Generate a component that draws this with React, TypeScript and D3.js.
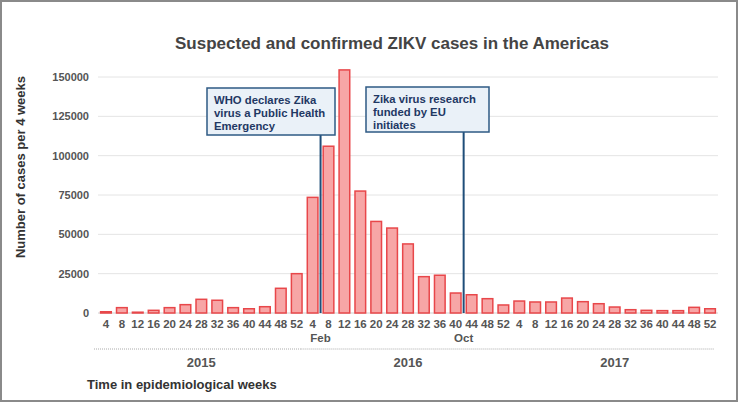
import React from "react";
import * as d3 from "d3";

const years = ["2015", "2016", "2017"];
const weeks = ["4", "8", "12", "16", "20", "24", "28", "32", "36", "40", "44", "48", "52"];
const cases2015 = [800, 3400, 500, 1700, 3400, 5300, 8700, 8100, 3400, 2700, 4000, 15700, 25000];
const cases2016 = [73500, 106000, 154500, 77500, 58200, 54000, 43900, 23100, 24000, 12700, 11600, 9100, 5100];
const cases2017 = [7600, 7000, 7000, 9500, 7200, 5900, 3800, 2100, 1700, 1500, 1500, 3600, 2700];
const yTicks = [0, 25000, 50000, 75000, 100000, 125000, 150000];

const annotations = [
  { year: "2016", after: "4", label: "Feb", lines: ["WHO declares Zika", "virus a Public Health", "Emergency"], box: [207, 88, 128, 47] },
  { year: "2016", after: "40", label: "Oct", lines: ["Zika virus research", "funded by EU", "initiates"], box: [366, 87, 123, 45] },
];

const W = 738, H = 402;
const left = 98, right = 718, baseY = 313, topY = 77;
const font = "'Liberation Sans', Arial, sans-serif";

export default function App() {
  const seriesAll = [cases2015, cases2016, cases2017];
  const data = years.flatMap((y, yi) => weeks.map((w, wi) => ({ key: `${y}-${w}`, year: y, week: w, value: seriesAll[yi][wi] })));
  const x = d3.scaleBand<string>().domain(data.map(d => d.key)).range([left, right]).paddingInner(0.33).paddingOuter(0.165);
  const y = d3.scaleLinear().domain([0, 150000]).range([baseY, topY]);
  const step = x.step();

  const yearExtent = (yr: string) => {
    const ks = data.filter(d => d.year === yr).map(d => d.key);
    const a = (x(ks[0]) as number) - (step - x.bandwidth()) / 2;
    const b = (x(ks[ks.length - 1]) as number) + x.bandwidth() + (step - x.bandwidth()) / 2;
    return [a, b];
  };

  return (
    <svg width={W} height={H} style={{ position: "absolute", left: 0, top: 0, background: "#fff" }} fontFamily={font}>
      <rect x={1} y={1} width={W - 2} height={H - 2} fill="#fff" stroke="#8a8a8a" strokeWidth={2} />
      <text x={392} y={49} textAnchor="middle" fontSize={17} fontWeight="bold" fill="#444">
        Suspected and confirmed ZIKV cases in the Americas
      </text>
      <text transform={`translate(25,167) rotate(-90)`} textAnchor="middle" fontSize={13} fontWeight="bold" fill="#333">
        Number of cases per 4 weeks
      </text>
      {yTicks.map(t => (
        <g key={t}>
          <line x1={left} x2={right} y1={y(t)} y2={y(t)} stroke={t === 0 ? "#d0d0d0" : "#e4e4e4"} strokeWidth={1} />
          <text x={89} y={y(t)} dy="0.35em" textAnchor="end" fontSize={11} fontWeight="bold" fill="#555">{t}</text>
        </g>
      ))}
      {data.map(d => (
        <rect key={d.key} x={x(d.key)} y={y(d.value)} width={x.bandwidth()} height={baseY - y(d.value)}
          fill="#f7a6a6" stroke="#e8474a" strokeWidth={1.5} />
      ))}
      {data.map(d => (
        <text key={"l" + d.key} x={(x(d.key) as number) + x.bandwidth() / 2} y={328} textAnchor="middle" fontSize={11.5} fontWeight="bold" fill="#555">
          {d.week}
        </text>
      ))}
      {years.map(yr => {
        const [a, b] = yearExtent(yr);
        return (
          <g key={yr}>
            <line x1={a - 4} x2={b - 4} y1={349} y2={349} stroke="#aaa" strokeWidth={1} strokeDasharray="1,1" />
            <text x={(a + b) / 2} y={367} textAnchor="middle" fontSize={13} fontWeight="bold" fill="#555">{yr}</text>
          </g>
        );
      })}
      {annotations.map(an => {
        const k = `${an.year}-${an.after}`;
        const lx = (x(k) as number) + x.bandwidth() + (step - x.bandwidth()) / 2;
        const [bx, by, bw, bh] = an.box;
        return (
          <g key={k}>
            <line x1={lx} x2={lx} y1={by + bh} y2={baseY} stroke="#1f4e79" strokeWidth={2} />
            <rect x={bx} y={by} width={bw} height={bh} fill="#eaf1f8" stroke="#2e5a84" strokeWidth={1.5} />
            {an.lines.map((ln, i) => (
              <text key={i} x={bx + 7} y={by + 15.5 + i * 13.3} fontSize={11.3} fontWeight="bold" fill="#1f3864">{ln}</text>
            ))}
            <text x={lx} y={342} textAnchor="middle" fontSize={11.5} fontWeight="bold" fill="#555">{an.label}</text>
          </g>
        );
      })}
      <text x={87} y={389} fontSize={13} fontWeight="bold" fill="#333">Time in epidemiological weeks</text>
    </svg>
  );
}
